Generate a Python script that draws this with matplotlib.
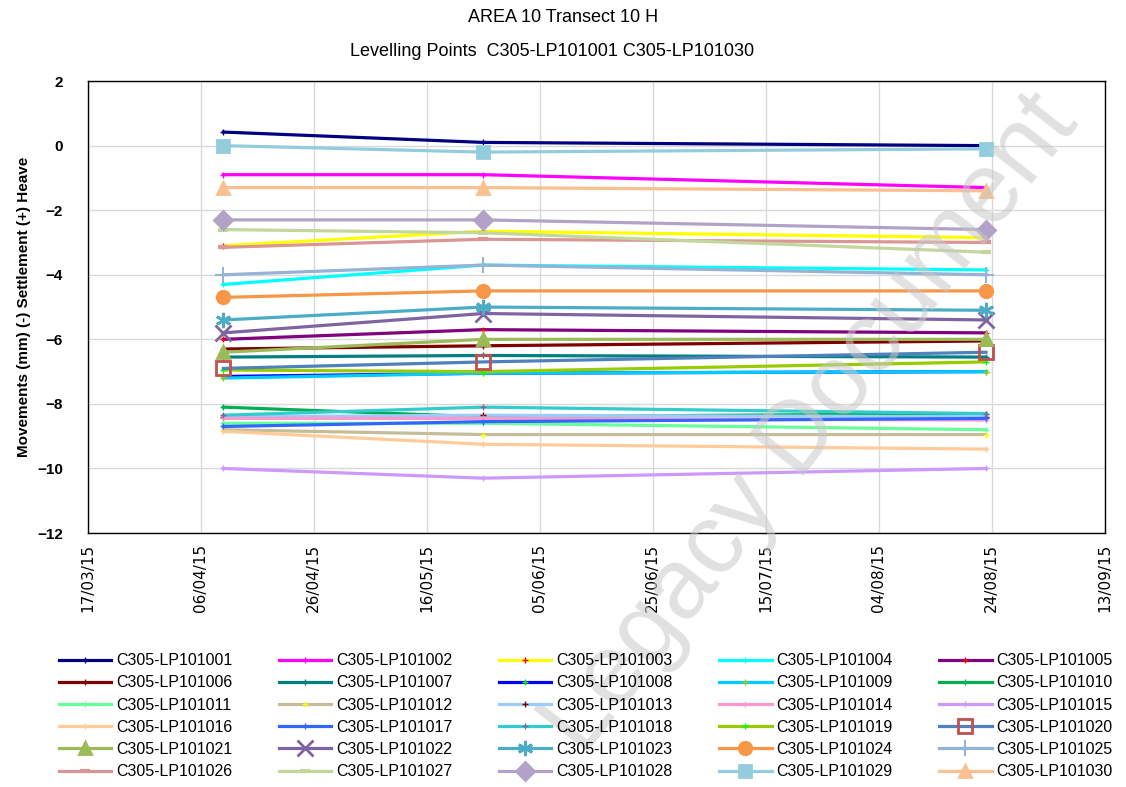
import matplotlib
matplotlib.use("Agg")
import matplotlib.pyplot as plt
import matplotlib.dates as mdates
import numpy as np
from datetime import datetime, timedelta

dates = [datetime(2015, 4, 10), datetime(2015, 5, 26), datetime(2015, 8, 23)]

names = ["C305-LP1010%02d" % i for i in range(1, 31)]

# movement values (mm) at each survey date
values = [
    [0.42, 0.10, 0.00],    # 01
    [-0.90, -0.90, -1.30],  # 02
    [-3.10, -2.65, -2.85],  # 03
    [-4.30, -3.70, -3.85],  # 04
    [-6.00, -5.70, -5.80],  # 05
    [-6.30, -6.20, -6.05],  # 06
    [-6.55, -6.50, -6.55],  # 07
    [-7.15, -7.05, -7.00],  # 08
    [-7.20, -7.05, -7.00],  # 09
    [-8.10, -8.40, -8.30],  # 10
    [-8.60, -8.60, -8.80],  # 11
    [-8.80, -8.95, -8.95],  # 12
    [-8.40, -8.35, -8.40],  # 13
    [-8.45, -8.45, -8.50],  # 14
    [-10.00, -10.30, -10.00],  # 15
    [-8.85, -9.25, -9.40],  # 16
    [-8.70, -8.55, -8.45],  # 17
    [-8.35, -8.10, -8.30],  # 18
    [-6.95, -7.00, -6.70],  # 19
    [-6.90, -6.70, -6.40],  # 20
    [-6.40, -6.00, -6.00],  # 21
    [-5.80, -5.20, -5.40],  # 22
    [-5.40, -5.00, -5.10],  # 23
    [-4.70, -4.50, -4.50],  # 24
    [-4.00, -3.70, -4.00],  # 25
    [-3.15, -2.90, -3.00],  # 26
    [-2.60, -2.70, -3.30],  # 27
    [-2.30, -2.30, -2.60],  # 28
    [0.00, -0.20, -0.10],   # 29
    [-1.30, -1.30, -1.40],  # 30
]

colors = ["#000080", "#FF00FF", "#FFFF00", "#00FFFF", "#800080",
          "#800000", "#008080", "#0000FF", "#00CCFF", "#00B050",
          "#66FF99", "#C4BD97", "#99CCFF", "#FF99CC", "#CC99FF",
          "#FFCC99", "#3366FF", "#33CCCC", "#99CC00", "#4F81BD",
          "#9BBB59", "#8064A2", "#4BACC6", "#F79646", "#95B3D7",
          "#D99694", "#C3D69B", "#B3A2C7", "#93CDDD", "#FAC090"]

marker_colors = ["#000080", "#FF00FF", "#FF0000", "#00FFFF", "#FF0000",
                 "#800000", "#008080", "#00FF00", "#99CC00", "#00B050",
                 "#66FF99", "#FFFF00", "#800000", "#FF99CC", "#CC99FF",
                 "#FFCC99", "#3366FF", "#8064A2", "#00FF00", "#C0504D",
                 "#9BBB59", "#8064A2", "#4BACC6", "#F79646", "#95B3D7",
                 "#D99694", "#C3D69B", "#B3A2C7", "#93CDDD", "#FAC090"]

markers = ["+"] * 19 + ["s", "^", "x", (6, 2, 0), "o", "+", "_", "_", "D", "s", "^"]

plt.rcParams['font.family'] = ['Liberation Sans', 'DejaVu Sans']

fig = plt.figure(figsize=(11.26, 7.87), dpi=100)
ax = fig.add_axes([0.078, 0.3227, 0.903, 0.5743])

handles = []
for i in range(30):
    m = markers[i]
    ms = 4
    mfc = marker_colors[i]
    mew = 1
    if i >= 19:
        ms = 9
        mew = 2
    if i == 19:
        mfc = "none"
        ms = 10
    if m == "_":
        ms = 7
        mew = 3
    if i == 24:
        ms = 12
        mew = 1.5
    if i in (21, 22):
        ms = 11
    h, = ax.plot(dates, values[i], color=colors[i], lw=2.3, marker=m,
                 ms=ms, mfc=mfc, mec=marker_colors[i], mew=mew,
                 label=names[i], zorder=3)
    handles.append(h)

ax.set_xlim(datetime(2015, 3, 17), datetime(2015, 9, 13))
ax.set_ylim(-12, 2)
ticks = [datetime(2015, 3, 17) + timedelta(days=20 * k) for k in range(10)]
ax.set_xticks(ticks)
ax.xaxis.set_major_formatter(mdates.DateFormatter("%d/%m/%y"))
plt.setp(ax.get_xticklabels(), rotation=90, fontsize=11, family="DejaVu Sans")
ax.set_yticks(range(-12, 3, 2))
for t in ax.get_yticklabels():
    t.set_fontweight("bold")
    t.set_fontsize(11)
ax.tick_params(axis="x", length=0, pad=8)
ax.tick_params(axis="y", length=0, pad=18)
ax.grid(True, color="#d9d9d9", lw=1)
ax.set_axisbelow(True)
for s in ax.spines.values():
    s.set_color("black")
    s.set_linewidth(1)

ax.set_ylabel("Movements (mm) (-) Settlement (+) Heave", fontsize=11,
              fontweight="bold", labelpad=4)

fig.text(0.5, 0.978, "AREA 10 Transect 10 H", ha="center", va="center", fontsize=13)
fig.text(0.49, 0.934, "Levelling Points  C305-LP101001 C305-LP101030",
         ha="center", va="center", fontsize=13)

order = [r * 5 + c for c in range(5) for r in range(6)]
fig.legend([handles[k] for k in order], [names[k] for k in order],
           loc="upper left", bbox_to_anchor=(0.052, 0.17), ncol=5,
           frameon=False, fontsize=11.5, handlelength=3.3, handletextpad=0.3,
           columnspacing=2.9, labelspacing=0.45, borderaxespad=0,
           borderpad=0)

fig.text(0.72, 0.46, "Legacy Document", fontsize=72, color="#c8c8c8",
         alpha=0.55, rotation=52, ha="center", va="center", zorder=0)

fig.savefig("out.png", dpi=100)
